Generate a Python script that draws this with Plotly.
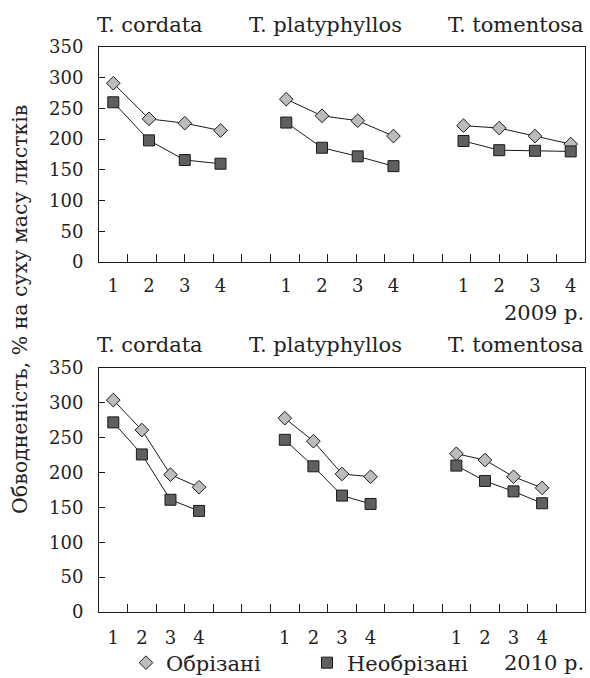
import plotly.graph_objects as go

# ---------------- data ----------------
groups = ["T. cordata", "T. platyphyllos", "T. tomentosa"]
cats = ["1", "2", "3", "4"]
cut_2009 = [[291, 233, 226, 214], [265, 238, 230, 205], [222, 218, 205, 192]]
uncut_2009 = [[260, 198, 166, 160], [227, 186, 172, 156], [197, 182, 181, 180]]
cut_2010 = [[304, 261, 197, 179], [278, 245, 198, 194], [227, 218, 194, 178]]
uncut_2010 = [[272, 226, 161, 145], [247, 209, 167, 155], [210, 188, 173, 156]]
series_names = ["Обрізані", "Необрізані"]
year_labels = ["2009 р.", "2010 р."]
y_title = "Обводненість, % на суху масу листків"
y_ticks = [0, 50, 100, 150, 200, 250, 300, 350]

# ---------------- layout helpers ----------------
W, H = 590, 678
FONT = "DejaVu Serif"
FS_TICK = 18
FS_TEXT = 21
INK = "#222222"
def px_x(p): return p / W          # reference pixel -> paper fraction
def px_y(p): return 1 - p / H

x_dom = [px_x(99), px_x(585)]
panels = [
    dict(ydom=[px_y(262), px_y(47)], starts=[0.5, 6.55, 12.75], step=1.25,
         cut=cut_2009, uncut=uncut_2009, title_y=25, year_y=313),
    dict(ydom=[px_y(612), px_y(368)], starts=[0.5, 6.5, 12.5], step=1.0,
         cut=cut_2010, uncut=uncut_2010, title_y=345, year_y=663),
]

styles = [
    dict(symbol="diamond", size=10.5, color="#bcbcbc"),
    dict(symbol="square", size=11, color="#5f5f5f"),
]

fig = go.Figure()
annotations = []
for pi, p in enumerate(panels):
    xa = "x" if pi == 0 else "x2"
    ya = "y" if pi == 0 else "y2"
    xs = []
    for g in range(len(groups)):
        xs += [p["starts"][g] + p["step"] * i for i in range(len(cats))] + [None]
    for si, data in enumerate([p["cut"], p["uncut"]]):
        ys = []
        for g in range(len(groups)):
            ys += list(data[g]) + [None]
        st = styles[si]
        fig.add_trace(go.Scatter(
            x=xs, y=ys, xaxis=xa, yaxis=ya, mode="lines+markers",
            name=series_names[si], showlegend=False,
            line=dict(color="#1a1a1a", width=1),
            marker=dict(symbol=st["symbol"], size=st["size"], color=st["color"],
                        line=dict(color="#1a1a1a", width=1)),
            connectgaps=False,
        ))
    tickvals = [v for v in xs if v is not None]
    ticktext = cats * len(groups)
    axis_common = dict(
        range=[0, 17], domain=x_dom, showgrid=False, zeroline=False,
        showline=True, linecolor="#1a1a1a", linewidth=1, mirror=True,
        automargin=False,
        tickmode="array", tickvals=tickvals, ticktext=ticktext, ticks="",
        tickfont=dict(family=FONT, size=FS_TICK, color=INK),
        ticklabelstandoff=7 if pi == 0 else 9,
        minor=dict(tickmode="array", tickvals=list(range(1, 17)), ticks="inside",
                   ticklen=8, tickcolor="#1a1a1a", tickwidth=1, showgrid=False),
    )
    yaxis_common = dict(
        range=[0, 350], domain=p["ydom"], showgrid=False, zeroline=False,
        showline=True, linecolor="#1a1a1a", linewidth=1, mirror=True,
        automargin=False,
        tickmode="array", tickvals=y_ticks, ticks="inside", ticklen=6,
        tickcolor="#1a1a1a", tickfont=dict(family=FONT, size=FS_TICK, color=INK),
        ticklabelstandoff=11,
    )
    if pi == 0:
        fig.update_layout(xaxis=dict(anchor="y", **axis_common),
                          yaxis=dict(anchor="x", **yaxis_common))
    else:
        fig.update_layout(xaxis2=dict(anchor="y2", **axis_common),
                          yaxis2=dict(anchor="x2", **yaxis_common))
    # group titles
    annotations.append(dict(text=groups[0], x=px_x(95), xanchor="left",
                            y=px_y(p["title_y"]), yanchor="middle"))
    annotations.append(dict(text=groups[1], x=px_x(326), xanchor="center",
                            y=px_y(p["title_y"]), yanchor="middle"))
    annotations.append(dict(text=groups[2], x=px_x(586), xanchor="right",
                            y=px_y(p["title_y"]), yanchor="middle"))
    annotations.append(dict(text=year_labels[pi], x=px_x(586), xanchor="right",
                            y=px_y(p["year_y"]), yanchor="middle"))

for a in annotations:
    a.update(font=dict(family=FONT, size=FS_TEXT, color=INK))
annotations.append(dict(text=y_title, x=px_x(20), xanchor="center",
                        y=px_y(310), yanchor="middle", textangle=-90,
                        font=dict(family=FONT, size=20.5, color=INK)))
for a in annotations:
    a.update(xref="paper", yref="paper", showarrow=False)

# legend-only marker entries
for si in range(2):
    st = styles[si]
    fig.add_trace(go.Scatter(
        x=[None], y=[None], mode="markers", name=series_names[si],
        marker=dict(symbol=st["symbol"], size=st["size"], color=st["color"],
                    line=dict(color="#1a1a1a", width=1)),
        showlegend=True, xaxis="x2", yaxis="y2"))

fig.update_layout(
    width=W, height=H, margin=dict(l=0, r=0, t=0, b=0, autoexpand=False),
    paper_bgcolor="white", plot_bgcolor="white",
    annotations=annotations,
    showlegend=True,
    legend=dict(orientation="h", x=px_x(126), xanchor="left",
                y=px_y(663), yanchor="middle",
                entrywidth=136, entrywidthmode="pixels",
                font=dict(family=FONT, size=FS_TEXT, color=INK),
                bgcolor="rgba(0,0,0,0)"),
)

fig.write_html("out.html", config={"displayModeBar": False},
               post_script="document.body.style.margin='0px';")
